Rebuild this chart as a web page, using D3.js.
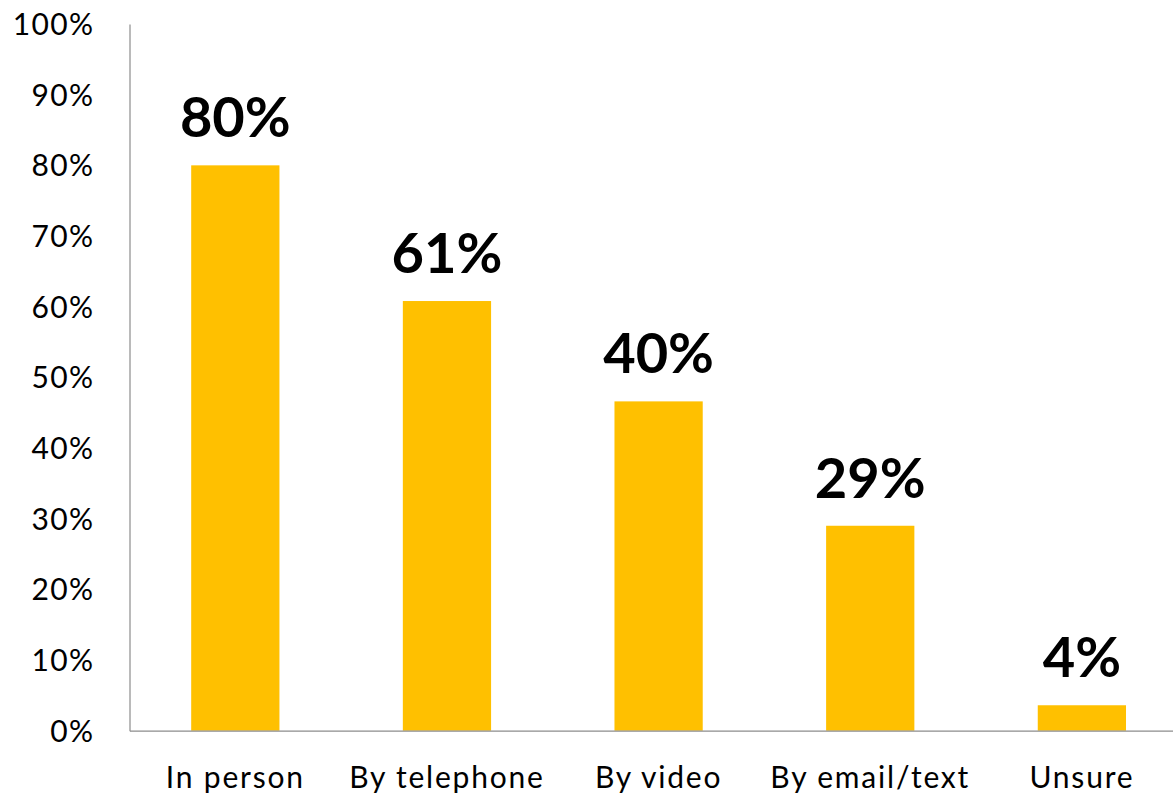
<!DOCTYPE html>
<html>
<head>
<meta charset="utf-8">
<script src="https://cdn.jsdelivr.net/npm/d3@7/dist/d3.min.js"></script>
<style>
  html, body { margin: 0; padding: 0; background: #ffffff; }
  svg { display: block; }
  text { font-family: Lato, "Open Sans", sans-serif; fill: #000; }
</style>
</head>
<body>
<svg id="chart" width="1173" height="795"></svg>
<script>
// Data
const categories = ["In person", "By telephone", "By video", "By email/text", "Unsure"];
const barValues = [80, 60.8, 46.6, 29, 3.6];          // bar heights as drawn (%)
const barLabels = ["80%", "61%", "40%", "29%", "4%"];  // data labels as printed
const yTicks = [0, 10, 20, 30, 40, 50, 60, 70, 80, 90, 100];

const svg = d3.select("#chart");
const plot = { left: 129.5, top: 24, bottom: 730.7, right: 1187.7 };

const x = d3.scaleBand()
  .domain(categories)
  .range([plot.left, plot.right])
  .paddingInner(0.583)
  .paddingOuter(0.2915);

const y = d3.scaleLinear()
  .domain([0, 100])
  .range([plot.bottom, plot.top]);

// Bars
svg.append("g")
  .selectAll("rect")
  .data(categories)
  .join("rect")
  .attr("x", d => x(d))
  .attr("width", x.bandwidth())
  .attr("y", (d, i) => y(barValues[i]))
  .attr("height", (d, i) => y(0) - y(barValues[i]))
  .attr("fill", "#FFC000");

// Y axis
const yAxis = svg.append("g")
  .attr("transform", `translate(${plot.left},0)`)
  .call(d3.axisLeft(y).tickValues(yTicks).tickSize(0).tickPadding(35).tickFormat(d => d + "%"));
yAxis.select(".domain").attr("stroke", "#8c8c8c").attr("stroke-width", 1.2);
yAxis.selectAll("text")
  .attr("font-size", 30)
  .attr("letter-spacing", 1.4)
  .attr("font-family", "Lato, sans-serif")
  .attr("fill", "#000")
  .attr("dy", "0.35em");

// X axis
const xAxis = svg.append("g")
  .attr("transform", `translate(0,${plot.bottom})`)
  .call(d3.axisBottom(x).tickSize(0).tickPadding(36));
xAxis.select(".domain").attr("stroke", "#8c8c8c").attr("stroke-width", 1.2);
xAxis.selectAll("text")
  .attr("font-size", 30)
  .attr("letter-spacing", 1.8)
  .attr("font-family", "Lato, sans-serif")
  .attr("fill", "#000");

// Data labels
svg.append("g")
  .selectAll("text")
  .data(categories)
  .join("text")
  .attr("x", d => x(d) + x.bandwidth() / 2)
  .attr("y", (d, i) => y(barValues[i]) - 28)
  .attr("text-anchor", "middle")
  .attr("font-size", 56)
  .attr("font-weight", "bold")
  .text((d, i) => barLabels[i]);
</script>
</body>
</html>
